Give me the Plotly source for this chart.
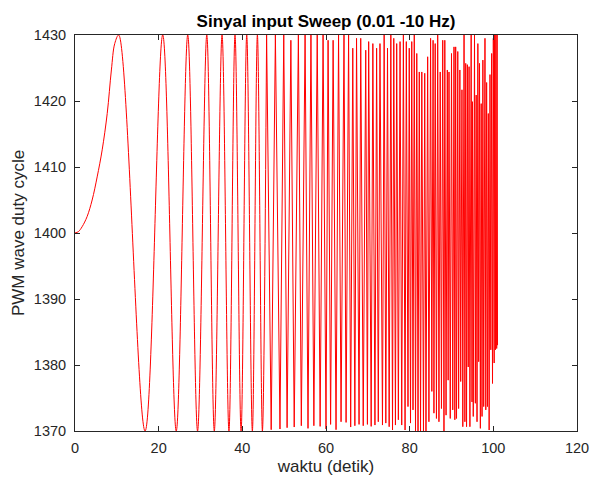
import plotly.graph_objects as go

# ---- data ----
# slow initial rise (before first peak)
rise_t = [0, 0.8, 1.7, 2.9, 4.1, 5.3, 6.5, 7.7, 8.7, 9.5]
rise_y = [1400, 1400.2, 1400.95, 1402.5, 1405, 1408.5, 1412.6, 1418.1, 1424.7, 1428.7]

# local maxima of the sweep
peak_t = [10.45, 20.97, 26.95, 31.5, 35.15, 38.25, 41.05, 43.6, 45.8, 47.9,
          49.9, 51.6, 53.4, 55.0, 56.4, 57.9, 59.3, 60.5, 61.7, 63.0,
          64.3, 65.4, 66.4, 67.3, 68.3, 69.5,
          70.2, 71.2, 72.1, 72.9, 73.9, 74.7, 75.5, 76.2, 76.9, 77.7,
          78.5, 79.2, 79.9, 80.5, 81.1, 81.7, 82.3, 82.9, 83.6, 84.3,
          85.0, 85.6, 86.1, 86.7, 87.3, 87.9, 88.4, 89.0, 89.4, 90.0,
          90.6, 91.0, 91.5, 92.0, 92.5, 93.0, 93.4, 93.8, 94.2, 94.7,
          95.0, 95.5, 95.9, 96.3, 96.7, 97.1, 97.5, 98.0, 98.4, 98.8,
          99.2, 99.6, 100.0, 100.3, 100.6, 100.9]
peak_y = [1430, 1430, 1430, 1430, 1430, 1430, 1430, 1430, 1430, 1430,
          1430, 1429.2, 1430, 1430, 1430, 1430, 1430, 1429.2, 1429.2, 1430,
          1430, 1430, 1428.0, 1429.5, 1429.5, 1427.7,
          1429.0, 1428.7, 1428.0, 1428.7, 1430, 1428.0, 1430, 1429.5, 1428.7, 1429.0,
          1430, 1429.0, 1428.0, 1429.0, 1430, 1427.2, 1424.4, 1424.4, 1424.2, 1426.7,
          1429.5, 1429.2, 1428.7, 1430, 1424.4, 1429.2, 1429.2, 1424.7, 1424.4, 1427.2,
          1428.2, 1428.2, 1427.5, 1424.7, 1421.7, 1430, 1425.7, 1425.5, 1425.2, 1430,
          1419.9, 1430, 1420.9, 1428.7, 1425.7, 1419.6, 1426.2, 1429.5, 1422.8, 1418.1,
          1424.0, 1427.2, 1429.5, 1430, 1430, 1430]

# local minima of the sweep
trough_t = [16.75, 24.2, 29.3, 33.3, 36.8, 39.7, 42.4, 44.8, 46.9, 49.0,
            50.7, 52.4, 54.1, 55.7, 57.1, 58.6, 60.0, 61.1, 62.4, 63.6,
            64.8, 65.9, 66.9, 67.9, 68.9, 69.9,
            70.8, 71.7, 72.5, 73.5, 74.3, 75.1, 75.9, 76.6, 77.3, 78.1,
            78.9, 79.6, 80.2, 80.8, 81.4, 82.0, 82.6, 83.3, 83.9, 84.6,
            85.3, 85.8, 86.4, 87.0, 87.6, 88.2, 88.7, 89.2, 89.7, 90.3,
            90.8, 91.2, 91.7, 92.2, 92.7, 93.2, 93.6, 94.0, 94.4, 94.9,
            95.2, 95.7, 96.1, 96.5, 96.9, 97.3, 97.7, 98.2, 98.6, 99.0,
            99.4, 99.8, 100.2, 100.5, 100.8, 101.0]
trough_y = [1370, 1370, 1370, 1370, 1370, 1370, 1370, 1370, 1370.2, 1370.3,
            1370.5, 1370.6, 1370.8, 1370.4, 1370.8, 1370.7, 1370.3, 1371.0, 1370.2, 1371.4,
            1371.3, 1370.6, 1370.8, 1371.0, 1370.8, 1371.0,
            1370.7, 1370.9, 1371.4, 1370.9, 1371.2, 1370.65, 1370.15, 1370.9, 1371.7, 1370.9,
            1370.15, 1373.7, 1371.2, 1373.2, 1370, 1370, 1370, 1370, 1370, 1371.4,
            1376.0, 1372.7, 1371.9, 1371.4, 1373.4, 1370, 1372.4, 1377.7, 1371.9, 1373.2,
            1371.7, 1371.9, 1373.4, 1377.5, 1370.65, 1371.4, 1370.65, 1379.7, 1370.65, 1374.4,
            1372.2, 1374.2, 1371.4, 1380.5, 1370.4, 1372.2, 1373.7, 1373.2, 1373.7, 1370.15,
            1382.3, 1377.2, 1380.3, 1382.3, 1382.5, 1383.0]

x_ticks = [0, 20, 40, 60, 80, 100, 120]
y_ticks = [1370, 1380, 1390, 1400, 1410, 1420, 1430]

# ---- build the signal path (peak, trough, peak, ...) ----
seq_t, seq_y = [], []
for pt, py, tt, ty in zip(peak_t, peak_y, trough_t, trough_y):
    seq_t += [pt, tt]
    seq_y += [py, ty]

split = 2 * peak_t.index(45.8)  # smooth arcs up to here, sharp sampled spikes after
smooth_t = rise_t + seq_t[:split + 1]
smooth_y = rise_y + seq_y[:split + 1]
sharp_t = seq_t[split:]
sharp_y = seq_y[split:]

RED = "#ff0000"
fig = go.Figure()
fig.add_trace(go.Scatter(x=smooth_t, y=smooth_y, mode="lines",
                         line=dict(color=RED, width=1, shape="spline", smoothing=1),
                         showlegend=False, hoverinfo="skip"))
fig.add_trace(go.Scatter(x=sharp_t, y=sharp_y, mode="lines",
                         line=dict(color=RED, width=1),
                         showlegend=False, hoverinfo="skip"))

AX = "#262626"
FONT = "Liberation Sans, Arial, Helvetica, sans-serif"
axis_common = dict(showline=True, linecolor=AX, linewidth=1, mirror="ticks",
                   ticks="inside", ticklen=5, tickwidth=1, tickcolor=AX,
                   showgrid=False, zeroline=False, automargin=False,
                   tickfont=dict(family=FONT, size=14.5, color=AX))

fig.update_layout(
    width=592, height=478,
    margin=dict(l=75, r=15, t=35, b=47, autoexpand=False),
    paper_bgcolor="white", plot_bgcolor="white",
    title=dict(text="<b>Sinyal input Sweep (0.01 -10 Hz)</b>",
               x=(75 + 577) / 2 / 592, xanchor="center",
               y=1 - 21 / 478, yanchor="middle", yref="container",
               automargin=False,
               font=dict(family=FONT, size=17, color="#000000")),
    xaxis=dict(range=[0, 120], tickvals=x_ticks, ticklabelstandoff=4,
               title=dict(text="waktu (detik)", standoff=4,
                          font=dict(family=FONT, size=17, color=AX)),
               **axis_common),
    yaxis=dict(range=[1370, 1430], tickvals=y_ticks, ticklabelstandoff=5,
               title=dict(text="PWM wave duty cycle", standoff=4,
                          font=dict(family=FONT, size=17, color=AX)),
               **axis_common),
)

fig.write_html("out.html", config={"displayModeBar": False},
               post_script="document.body.style.margin='0px';document.body.style.padding='0px';")
